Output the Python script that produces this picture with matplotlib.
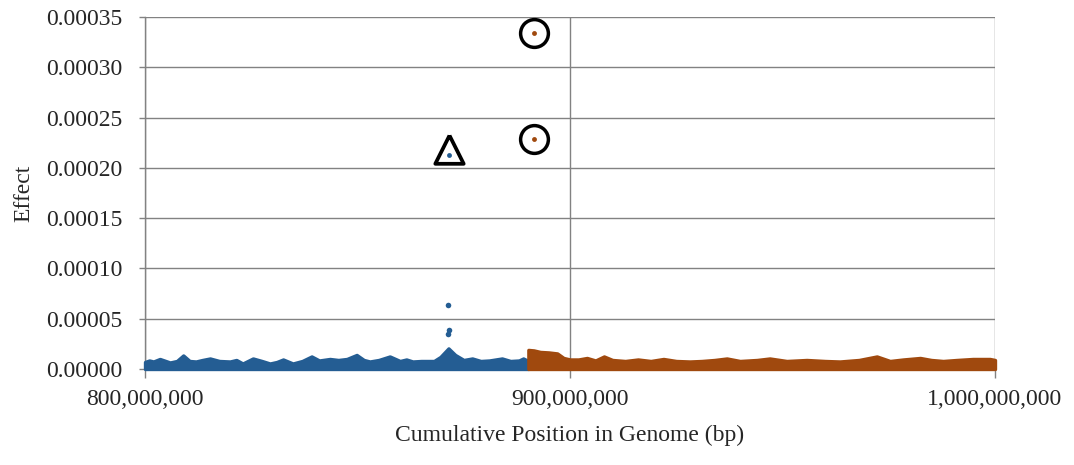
import matplotlib
matplotlib.use("Agg")
import matplotlib.pyplot as plt
from matplotlib.ticker import FuncFormatter, MultipleLocator
import numpy as np

# ---- data (positions in Mbp, effects in units of 1e-6) ----
blue_pos = [800.0, 801, 802, 803.5, 805.9, 807.5, 809, 810.5, 812, 813.5, 815.3, 817.5,
            820, 821.5, 823, 825.4, 827.5, 829.4, 831, 832.5, 834.8, 837, 839.2, 841,
            843.5, 845.5, 847.5, 849.8, 851.5, 852.9, 855, 857.6, 860, 861.5, 863, 865,
            868, 869.5, 871.4, 873, 875, 877, 879, 881, 884, 886, 888, 889, 890.2]
blue_top = [7, 8.5, 7.5, 10, 6.5, 8, 13.5, 8, 7.5, 9, 10.5, 8,
            7.5, 9, 5.5, 10.5, 8, 5.5, 7, 9.5, 5.5, 8, 12.5, 8.5,
            10, 9, 10, 14, 9, 7.5, 9, 12.5, 8, 9.5, 7.5, 8,
            8, 12, 20.5, 14, 9, 10.5, 8, 8.5, 10.5, 8, 8.5, 10.5, 8]
orange_pos = [890.2, 891.5, 893, 895, 897, 898.5, 900, 902, 904, 906, 908, 910, 913,
              916, 919, 922, 925, 928.2, 931, 934, 936.9, 940, 944, 947, 951, 955.7,
              960, 963.5, 968, 972.2, 975.3, 978.4, 982.4, 985, 987.8, 991, 994.8,
              998.8, 1000]
orange_top = [19, 18.5, 17, 16.5, 15.5, 11, 9.5, 9.5, 11, 8.5, 12.5, 9, 8,
              9.5, 8, 10, 8, 7.5, 8, 9, 10.5, 8, 9, 10.5, 8, 9,
              8, 7.5, 9, 12.5, 8, 9.5, 11, 9, 8, 9, 10,
              10, 9]

blue_out_pos = [871.3, 871.6, 871.2]
blue_out_val = [63.5, 38.5, 35.0]
blue_flag_pos = [871.5]
blue_flag_val = [212.8]
orange_flag_pos = [891.6, 891.6]
orange_flag_val = [334.0, 228.5]

xticks = [800_000_000, 900_000_000, 1_000_000_000]

BLUE = "#245d93"
ORANGE = "#a0490e"
GRID = "#828282"
TXT = "#262626"
FS = 17

plt.rcParams['font.family'] = ['Liberation Serif', 'DejaVu Serif']

fig = plt.figure(figsize=(10.74, 4.65), dpi=100)
ax = fig.add_axes([145/1074, 1-369/465, 850/1074, 352/465])

M = 1e6
U = 1e-6
bx = np.array(blue_pos) * M
by = np.array(blue_top) * U
ox = np.array(orange_pos) * M
oy = np.array(orange_top) * U

ax.fill_between(bx, 0, by, facecolor=BLUE, edgecolor=BLUE, linewidth=2.4,
                joinstyle='round', zorder=3, clip_on=False)
ax.fill_between(ox, 0, oy, facecolor=ORANGE, edgecolor=ORANGE, linewidth=2.4,
                joinstyle='round', zorder=3, clip_on=False)

ax.plot(np.array(blue_out_pos) * M, np.array(blue_out_val) * U, 'o', color=BLUE,
        markersize=4, markeredgewidth=0, zorder=4)
ax.plot(np.array(blue_flag_pos) * M, np.array(blue_flag_val) * U, 'o', color=BLUE,
        markersize=3.5, markeredgewidth=0, zorder=4)
ax.plot(np.array(orange_flag_pos) * M, np.array(orange_flag_val) * U, 'o', color=ORANGE,
        markersize=3.5, markeredgewidth=0, zorder=4)

# annotation shapes
ax.plot(np.array(orange_flag_pos) * M, np.array(orange_flag_val) * U, 'o',
        markerfacecolor='none', markeredgecolor='black', markersize=20,
        markeredgewidth=2.5, zorder=5)
tri = [(0, 1.0), (-0.71, -0.415), (0.71, -0.415), (0, 1.0)]
ax.plot(np.array(blue_flag_pos) * M, np.array(blue_flag_val) * U, linestyle='none',
        marker=tri, markerfacecolor='none', markeredgecolor='black', markersize=28.8,
        markeredgewidth=2.7, zorder=5)

ax.set_xlim(800_000_000, 1_000_000_000)
ax.set_ylim(0, 0.00035)
ax.set_xticks(xticks)
ax.xaxis.set_major_formatter(FuncFormatter(lambda v, p: f"{int(round(v)):,}"))
ax.yaxis.set_major_locator(MultipleLocator(0.00005))
ax.yaxis.set_major_formatter(FuncFormatter(lambda v, p: f"{v:.5f}"))

ax.grid(True, color=GRID, linewidth=1.0, zorder=0)
ax.set_axisbelow(True)
for s in ['top', 'right']:
    ax.spines[s].set_visible(False)
for s in ['left', 'bottom']:
    ax.spines[s].set_color(GRID)
    ax.spines[s].set_linewidth(1.0)

ax.tick_params(axis='both', direction='out', color=GRID, width=1.0,
               labelsize=FS, labelcolor=TXT)
ax.tick_params(axis='x', length=6.5, pad=8)
ax.tick_params(axis='y', length=4.5, pad=12)

ax.set_xlabel("Cumulative Position in Genome (bp)", fontsize=FS, color=TXT, labelpad=10.5)
ax.set_ylabel("Effect", fontsize=FS, color=TXT, labelpad=8)

fig.savefig("out.png", dpi=100)
